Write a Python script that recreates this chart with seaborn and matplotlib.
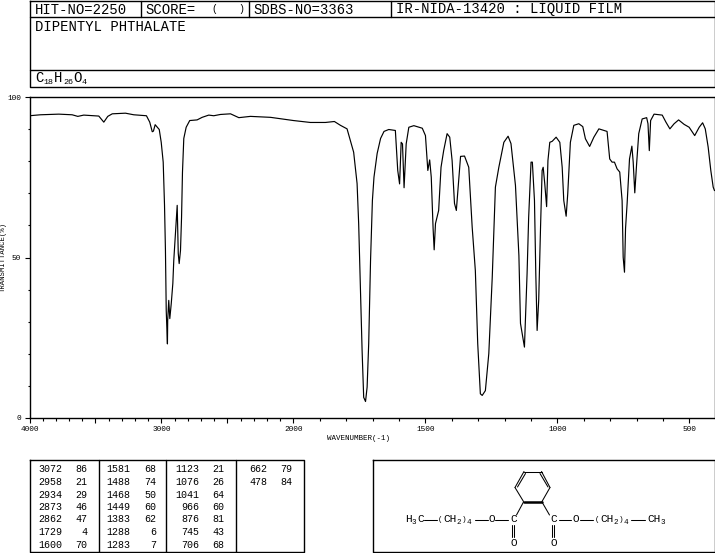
import matplotlib
matplotlib.use("Agg")
import matplotlib.pyplot as plt
import numpy as np
import pandas as pd
import seaborn as sns

sns.set_theme(style="ticks")
plt.rcParams["font.family"] = ["Liberation Mono", "DejaVu Sans Mono"]

WAVENUMBER = [
    4000, 3917, 3778, 3677, 3634, 3589, 3475, 3437, 3407, 3373, 3273, 3210, 3114, 3089, 3070, 3061,
    3048, 3017, 3002, 2987, 2977, 2970, 2964, 2955, 2953, 2945, 2937, 2926, 2914, 2907, 2894, 2881,
    2873, 2866, 2856, 2848, 2841, 2831, 2813, 2786, 2730, 2692, 2642, 2604, 2553, 2477, 2414, 2326,
    2174, 2000, 1936, 1879, 1845, 1822, 1797, 1772, 1759, 1753, 1746, 1740, 1734, 1727, 1721, 1715,
    1708, 1701, 1695, 1683, 1670, 1657, 1639, 1614, 1605, 1598, 1592, 1587, 1581, 1573, 1563, 1544,
    1512, 1500, 1491, 1484, 1478, 1471, 1467, 1462, 1450, 1441, 1431, 1418, 1408, 1399, 1390, 1383,
    1376, 1367, 1352, 1336, 1323, 1311, 1302, 1292, 1285, 1273, 1260, 1247, 1235, 1222, 1203, 1187,
    1176, 1159, 1146, 1140, 1125, 1115, 1109, 1100, 1095, 1087, 1082, 1077, 1071, 1064, 1058, 1054,
    1048, 1041, 1036, 1029, 1020, 1005, 991, 982, 976, 967, 961, 951, 938, 919, 904, 894,
    878, 862, 843, 812, 802, 793, 784, 774, 764, 755, 751, 746, 742, 736, 727, 718,
    713, 707, 700, 692, 679, 662, 657, 652, 647, 634, 603, 589, 574, 558, 541, 520,
    501, 480, 463, 450, 440, 429, 419, 410, 405,
]
TRANSMITTANCE = [
    94.3, 94.6, 94.8, 94.6, 94.1, 94.5, 94.2, 92.3, 94.1, 94.9, 95.1, 94.6, 94.3, 92.3, 89.3, 89.5,
    91.5, 90.0, 86.0, 79.8, 66.3, 52.2, 33.4, 23.0, 30.3, 36.6, 30.9, 35.6, 41.9, 49.0, 57.5, 66.3,
    51.3, 48.1, 52.2, 62.5, 76.6, 87.2, 90.7, 92.8, 93.0, 93.8, 94.5, 94.3, 94.7, 94.9, 93.7, 94.1,
    93.8, 92.8, 92.2, 92.2, 92.5, 91.3, 90.2, 82.9, 73.1, 60.6, 39.7, 20.9, 6.3, 5.0, 9.5, 23.1,
    49.1, 67.8, 75.1, 82.5, 87.2, 89.4, 90.0, 89.7, 77.2, 73.0, 86.0, 85.5, 71.8, 85.5, 90.7, 91.2,
    90.4, 88.1, 77.2, 80.5, 75.1, 59.0, 52.4, 60.6, 64.7, 78.2, 83.4, 88.7, 87.6, 80.3, 66.9, 64.7,
    72.0, 81.6, 81.7, 78.2, 59.5, 45.9, 23.1, 7.4, 6.9, 8.4, 20.0, 43.8, 72.0, 78.2, 86.0, 87.9,
    85.6, 72.5, 50.6, 29.4, 22.0, 45.0, 62.6, 79.8, 79.8, 67.8, 45.0, 27.2, 36.6, 59.5, 77.2, 78.2,
    73.0, 65.9, 80.3, 86.0, 86.3, 87.6, 86.0, 78.2, 67.8, 62.9, 69.9, 86.0, 91.3, 91.8, 90.9, 87.1,
    84.7, 87.6, 90.2, 89.4, 80.8, 79.8, 79.8, 77.7, 76.7, 67.8, 50.1, 45.4, 59.1, 66.9, 80.8, 84.8,
    79.8, 70.2, 79.3, 88.7, 93.3, 93.7, 91.8, 83.4, 92.8, 94.8, 94.5, 92.3, 90.2, 91.8, 93.0, 91.6,
    90.7, 88.1, 90.7, 92.1, 90.2, 84.5, 77.2, 72.0, 70.9,
]

PEAK_WN = [3072, 2958, 2934, 2873, 2862, 1729, 1600,
           1581, 1488, 1468, 1449, 1383, 1288, 1283,
           1123, 1076, 1041, 966, 876, 745, 706,
           662, 478]
PEAK_T = [86, 21, 29, 46, 47, 4, 70,
          68, 74, 50, 60, 62, 6, 7,
          21, 26, 64, 60, 81, 43, 68,
          79, 84]

X_MAJOR = [4000, 3000, 2000, 1500, 1000, 500]
X_MID = [3500, 2500]
X_MINOR = [w for w in range(3900, 400, -100) if w not in X_MAJOR + X_MID]
Y_MAJOR = [0, 50, 100]
Y_MINOR = [10, 20, 30, 40, 60, 70, 80, 90]

W, H = 715, 553
LW = 0.75


def forward(w):
    w = np.asarray(w, dtype=float)
    return np.where(w >= 2000, (4000 - w) * 0.5, 1000 + (2000 - w))


def inverse(v):
    v = np.asarray(v, dtype=float)
    return np.where(v <= 1000, 4000 - v * 2, 2000 - (v - 1000))


def box(ax, x0, y0, x1, y1):
    ax.plot([x0, x1, x1, x0, x0], [y0, y0, y1, y1, y0], color="black", lw=1.0, solid_capstyle="projecting")


def line(ax, x0, y0, x1, y1, lw=LW):
    ax.plot([x0, x1], [y0, y1], color="black", lw=lw)


def label(ax, x, y, s, size=7.2, ha="left", **kw):
    ax.text(x, y, s, fontsize=size, ha=ha, va="center", color="black", **kw)


fig = plt.figure(figsize=(W / 100, H / 100), dpi=100, facecolor="white")

# spectrum
ax = fig.add_axes([29.5 / W, (H - 417.5) / H, 685 / W, 320 / H])
df = pd.DataFrame({"wavenumber": WAVENUMBER, "transmittance": TRANSMITTANCE})
sns.lineplot(data=df, x="wavenumber", y="transmittance", sort=False, estimator=None,
             color="black", linewidth=0.85, ax=ax)
ax.set_xscale("function", functions=(forward, inverse))
ax.set_xticks(X_MAJOR + X_MID, [str(w) for w in X_MAJOR] + ["", ""], fontsize=5.6)
ax.set_xticks(X_MINOR, minor=True)
ax.set_yticks(Y_MAJOR, [str(v) for v in Y_MAJOR], fontsize=5.6)
ax.set_yticks(Y_MINOR, minor=True)
ax.set_xlim(405, 4000)
ax.set_ylim(0, 100)
ax.tick_params(axis="both", which="major", length=3.5, width=0.8, pad=2.5, color="black", labelcolor="black")
ax.tick_params(axis="both", which="minor", length=1.8, width=0.8, color="black")
ax.set_xlabel("WAVENUMBER(-1)", fontsize=5.4, color="black")
ax.set_ylabel("TRANSMITTANCE(%)", fontsize=5.2, color="black")
ax.xaxis.set_label_coords(0.48, -0.055)
ax.yaxis.set_label_coords(-0.034, 0.5)
for spine in ax.spines.values():
    spine.set_visible(True)
    spine.set_linewidth(1.0)
    spine.set_edgecolor("black")

# header, tables and structure live on a pixel-sized overlay
top = fig.add_axes([0, 0, 1, 1], facecolor="none")
top.set_xlim(0, W)
top.set_ylim(H, 0)
top.axis("off")

box(top, 29.5, 0.5, 714.5, 87)
line(top, 29.5, 17, 714.5, 17, 1.0)
line(top, 29.5, 69.5, 714.5, 69.5, 1.0)
for x in [141, 248.5, 390.5]:
    line(top, x, 0.5, x, 17, 1.0)

label(top, 35, 9.5, "HIT-NO=2250", 10)
label(top, 145, 9.5, "SCORE=", 10)
label(top, 211, 9.5, "(", 7)
label(top, 238, 9.5, ")", 7)
label(top, 253, 9.5, "SDBS-NO=3363", 10)
label(top, 396, 9.5, "IR-NIDA-13420 : LIQUID FILM", 10)
label(top, 35, 27, "DIPENTYL PHTHALATE", 10)

label(top, 35, 78, "C", 10)
label(top, 43.5, 83, "18", 6)
label(top, 54, 78, "H", 10)
label(top, 63, 83, "26", 6)
label(top, 73.5, 78, "O", 10)
label(top, 82, 83, "4", 6)

# peak table
box(top, 29.5, 460, 303.5, 552)
for x in [98.5, 166, 235.5]:
    line(top, x, 460, x, 552, 1.0)
wn_right = [62, 130, 199, 267]
t_right = [87, 156, 224, 292]
for i, (wn, t) in enumerate(zip(PEAK_WN, PEAK_T)):
    col, row = divmod(i, 7)
    y = 469.5 + row * 12.5
    label(top, wn_right[col], y, str(wn), 7.2, ha="right")
    label(top, t_right[col], y, str(t), 7.2, ha="right")

# structure
box(top, 372.5, 460, 714.5, 552)
ring = [(524, 471.5), (541.5, 471.5), (550, 487.5), (542, 501.5), (523.5, 501.5), (515, 487.5), (524, 471.5)]
for (x0, y0), (x1, y1) in zip(ring, ring[1:]):
    line(top, x0, y0, x1, y1)
line(top, 523.5, 501.5, 542, 501.5, 1.8)
line(top, 517.5, 487, 525.5, 473.5)
line(top, 540, 473.5, 548, 487)
line(top, 523.5, 502, 516.5, 515)
line(top, 542, 502, 549.5, 515)

row_y = 519.5
for x0, x1 in [(424, 437), (475, 488), (495, 508), (559, 571), (580, 593), (631, 645)]:
    line(top, x0, row_y, x1, row_y)
for x in [511.8, 514.2, 552, 554.4]:
    line(top, x, 525, x, 537)

label(top, 513.5, row_y, "C", 8, ha="center")
label(top, 491.5, row_y, "O", 8, ha="center")
label(top, 554, row_y, "C", 8, ha="center")
label(top, 575.5, row_y, "O", 8, ha="center")
label(top, 513.5, 543.5, "O", 8, ha="center")
label(top, 553.5, 543.5, "O", 8, ha="center")

label(top, 405, row_y, "H", 8)
label(top, 412, row_y + 2.5, "3", 5.5)
label(top, 417, row_y, "C", 8)
for x0 in [438, 595]:
    label(top, x0, row_y, "(", 5.5)
    label(top, x0 + 5, row_y, "CH", 8)
    label(top, x0 + 18.6, row_y + 2.5, "2", 5.5)
    label(top, x0 + 23.5, row_y, ")", 5.5)
    label(top, x0 + 28.5, row_y + 2.5, "4", 5.5)
label(top, 647, row_y, "CH", 8)
label(top, 660.5, row_y + 2.5, "3", 5.5)

fig.savefig("out.png", dpi=100, facecolor="white")
